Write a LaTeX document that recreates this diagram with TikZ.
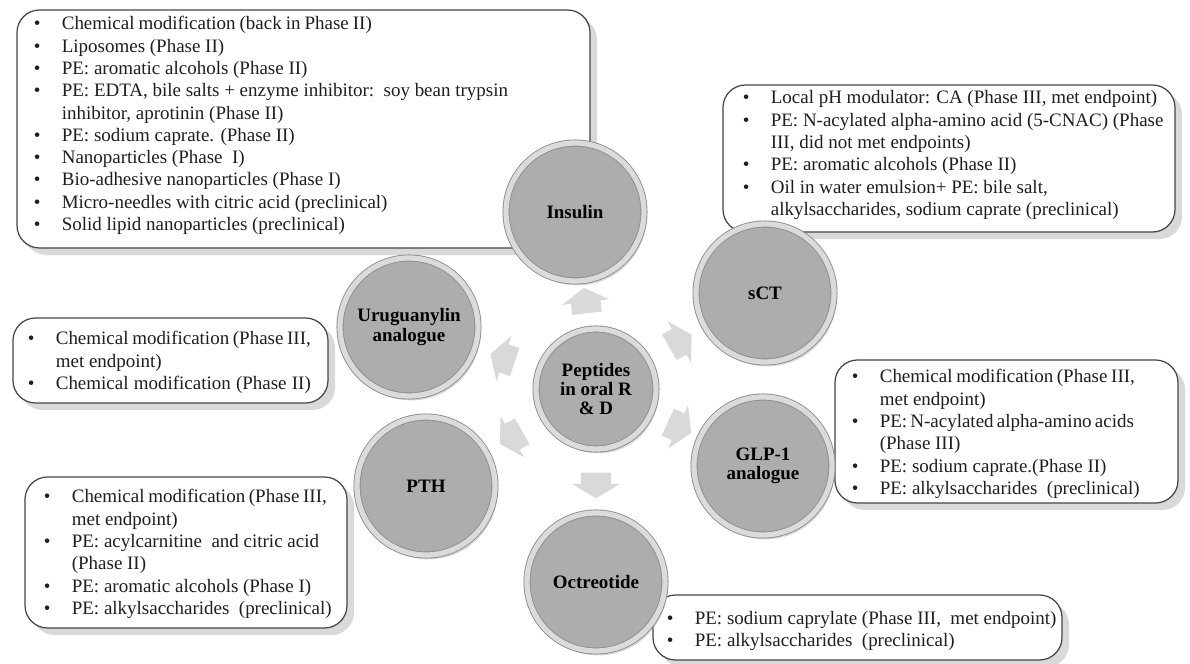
\documentclass[tikz,border=0pt]{standalone}
\usepackage{fontspec}
\setmainfont{Liberation Serif}
\usetikzlibrary{shapes.arrows,shadows}
\definecolor{boxline}{HTML}{454545}
\definecolor{boxtext}{HTML}{1E1E1E}
\newcommand{\bu}{\makebox[0.56cm][l]{\textbullet}}
\newcommand{\hg}{\hspace*{0.56cm}}
\newcommand{\sline}[2]{\makebox[#1][s]{#2}}
\tikzset{
  infobox/.style={draw=boxline, fill=white, rounded corners=0.45cm, line width=0.7pt,
    drop shadow={shadow xshift=4pt, shadow yshift=-4pt, opacity=0.3}},
  listtxt/.style={anchor=west, align=left, inner sep=0pt, text=boxtext,
    font=\fontsize{10.8}{12.7}\selectfont},
  pep/.style={circle, minimum size=2.76cm, inner sep=0pt, align=center, fill=gray!64,
    draw=gray!90, double=gray!28, double distance=3pt, line width=0.5pt,
    font=\fontsize{10.8}{11}\selectfont\bfseries,
    drop shadow={shadow xshift=1.5pt, shadow yshift=-2.5pt, opacity=0.3}},
  hub/.style={pep, minimum size=2.4cm},
  flowarr/.style={single arrow, fill=gray!30, inner sep=0pt, text width=0.32cm,
    text height=0.29cm, text depth=0.29cm, single arrow head extend=0.18cm,
    single arrow tip angle=118, sloped, allow upside down, midway}
}
\begin{document}
\begin{tikzpicture}
\useasboundingbox (0,0) rectangle (23.8,-13.28);
% boxes
\draw[infobox] (0.34,-0.2) rectangle (11.8,-4.96);
\node[listtxt] (instxt) at (0.67,-2.51) {\bu \sline{6.2cm}{Chemical modification (back in Phase II)}\\
  \bu Liposomes (Phase II)\\
  \bu PE: aromatic alcohols (Phase II)\\
  \bu PE: EDTA, bile salts + enzyme inhibitor:\ \ soy bean trypsin\\
  \hg inhibitor,\ aprotinin (Phase II)\\
  \bu PE: sodium caprate. (Phase II)\\
  \bu Nanoparticles (Phase\ \ I)\\
  \bu Bio-adhesive nanoparticles (Phase I)\\
  \bu Micro-needles with citric acid (preclinical)\\
  \bu Solid lipid nanoparticles (preclinical)};
\draw[infobox] (14.46,-1.7) rectangle (23.5,-4.64);
\node[listtxt] (scttxt) at (14.85,-3.1) {\bu Local pH modulator: CA (Phase III, met endpoint)\\
  \bu PE: N-acylated alpha-amino acid (5-CNAC) (Phase\\
  \hg III, did not met endpoints)\\
  \bu PE: aromatic alcohols (Phase II)\\
  \bu Oil in water emulsion+ PE: bile salt,\\
  \hg alkylsaccharides,\ sodium caprate (preclinical)};
\draw[infobox] (0.26,-6.36) rectangle (6.56,-8.06);
\node[listtxt] (urutxt) at (0.55,-7.25) {\bu \sline{5.1cm}{Chemical modification (Phase III,}\\
  \hg met endpoint)\\
  \bu \sline{5.1cm}{Chemical modification (Phase II)}};
\draw[infobox] (0.5,-9.54) rectangle (6.94,-12.56);
\node[listtxt] (pthtxt) at (0.87,-11.08) {\bu \sline{5.1cm}{Chemical modification (Phase III,}\\
  \hg met endpoint)\\
  \bu PE: acylcarnitine\ \ and citric acid\\
  \hg (Phase II)\\
  \bu PE: aromatic alcohols (Phase I)\\
  \bu PE: alkylsaccharides\ \ (preclinical)};
\draw[infobox] (16.7,-7.2) rectangle (23.56,-10.06);
\node[listtxt] (glptxt) at (17.03,-8.68) {\bu \sline{5.1cm}{Chemical modification (Phase III,}\\
  \hg met endpoint)\\
  \bu \sline{5.06cm}{PE: N-acylated alpha-amino acids}\\
  \hg (Phase III)\\
  \bu PE: sodium caprate.(Phase II)\\
  \bu PE: alkylsaccharides\ \ (preclinical)};
\draw[infobox] (13.06,-11.9) rectangle (21.24,-13.2);
\node[listtxt] (octtxt) at (13.33,-12.62) {\bu PE: sodium caprylate (Phase III,\ \ met endpoint)\\
  \bu PE: alkylsaccharides\ \ (preclinical)};
% circles
\node[pep] (ins) at (11.5,-4.24) {Insulin};
\node[pep] (sct) at (15.3,-5.86) {sCT};
\node[pep] (glp) at (15.26,-9.32) {GLP-1\\analogue};
\node[pep] (oct) at (11.92,-11.64) {Octreotide};
\node[pep] (pth) at (8.52,-9.72) {PTH};
\node[pep] (uru) at (8.18,-6.54) {Uruguanylin\\analogue};
\node[hub] (core) at (11.92,-7.78) {Peptides\\in oral R\\\& D};
% arrows
\path (core) -- node[flowarr] (toins) {} (ins);
\path (core) -- node[flowarr] (tosct) {} (sct);
\path (core) -- node[flowarr] (toglp) {} (glp);
\path (core) -- node[flowarr] (tooct) {} (oct);
\path (core) -- node[flowarr] (topth) {} (pth);
\path (core) -- node[flowarr] (touru) {} (uru);
\end{tikzpicture}
\end{document}
